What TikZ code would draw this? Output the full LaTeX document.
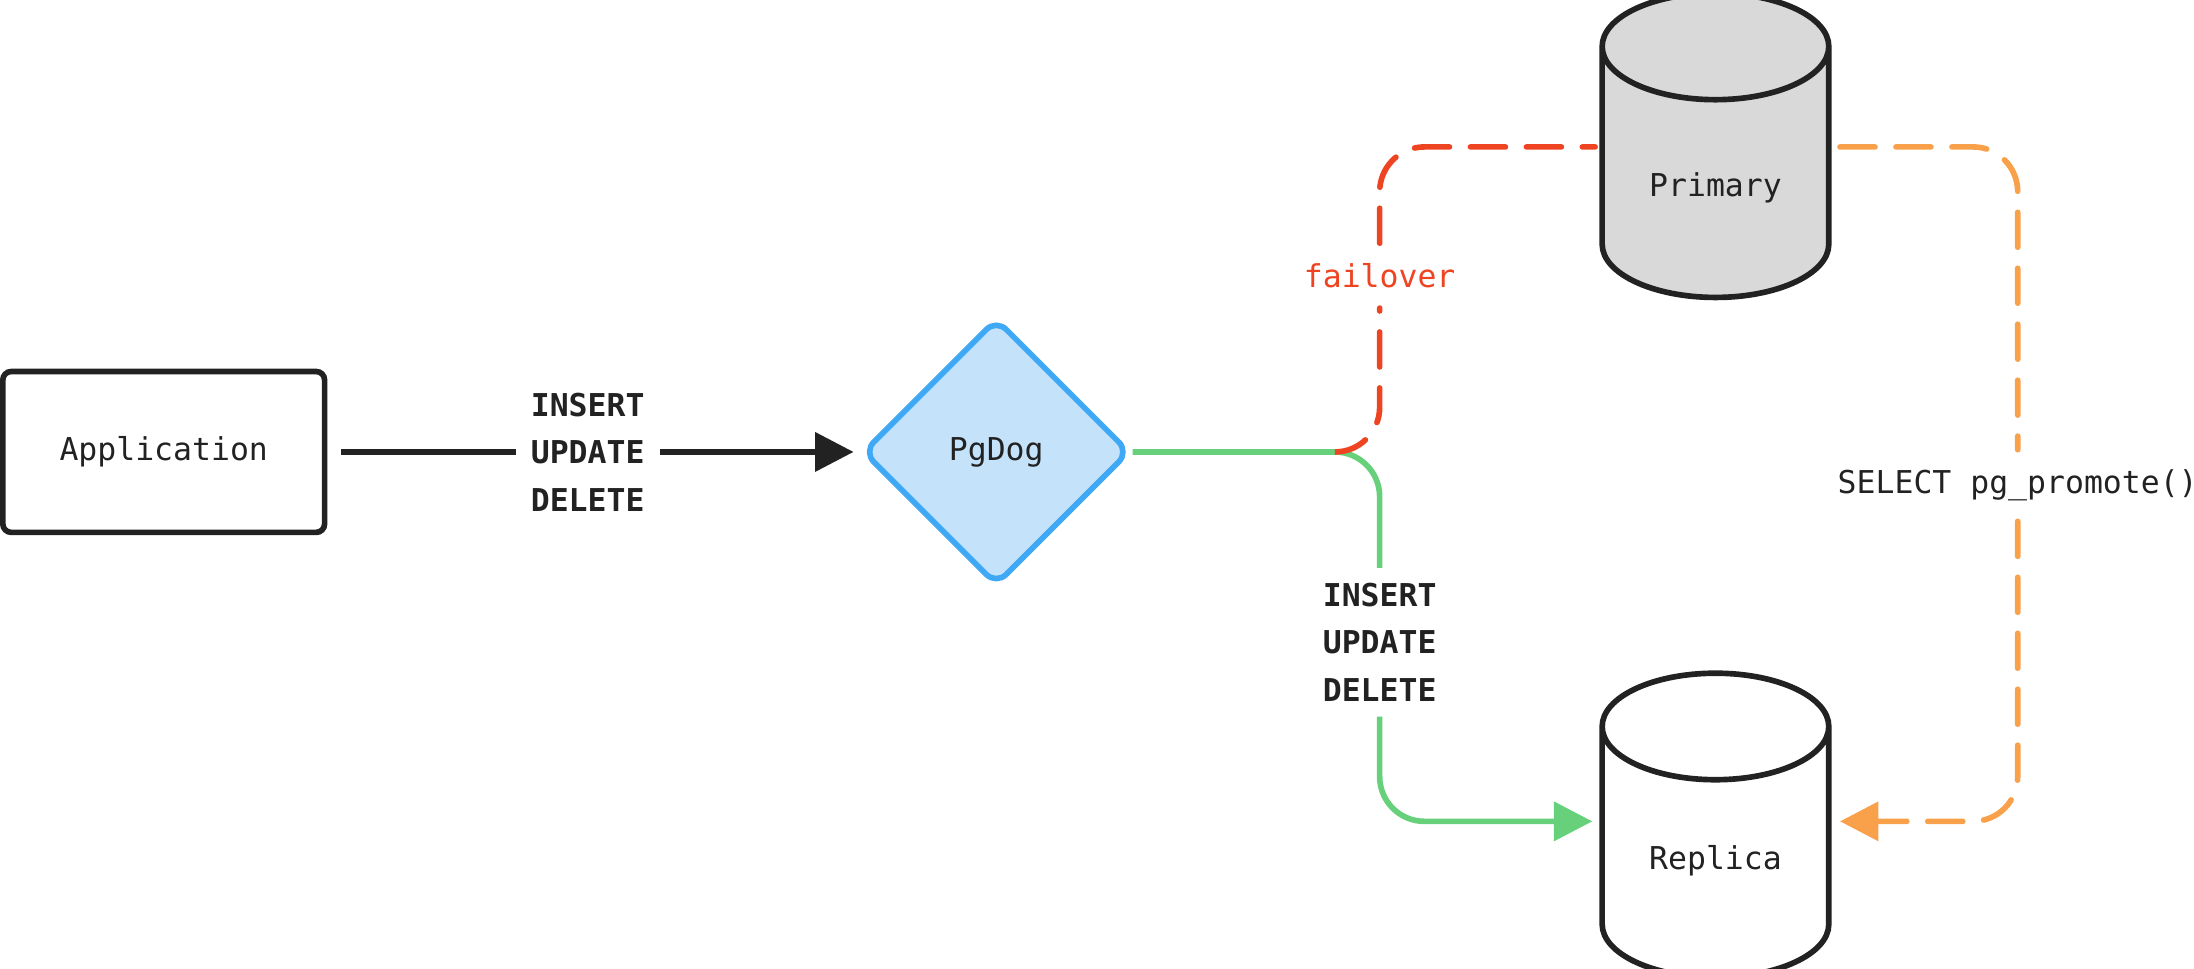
\documentclass[tikz,border=0pt]{standalone}
\usepackage{fontspec}
\setmainfont{DejaVu Sans Mono}
\usetikzlibrary{shapes.geometric,arrows.meta,positioning}
\definecolor{ink}{HTML}{222222}
\definecolor{pgblue}{HTML}{3FA9F5}
\definecolor{pgfill}{HTML}{C4E3FB}
\definecolor{wgreen}{HTML}{66D17A}
\definecolor{fred}{HTML}{EE4422}
\definecolor{porange}{HTML}{F9A04A}
\definecolor{dbgray}{HTML}{D9D9D9}
\tikzset{
  txt/.style={font=\fontsize{12.8}{19.3}\selectfont, text=ink, align=center},
  sql/.style={txt, font=\fontsize{12.8}{19.3}\selectfont\bfseries, inner sep=6pt},
  link/.style={line width=2.3pt, rounded corners=0.64cm},
  dashy/.style={link, dash pattern=on 0.5cm off 0.3cm, line cap=round},
  tip/.style={-{Triangle[length=0.55cm,width=0.55cm]}},
  db/.style={cylinder, shape border rotate=90, aspect=6.5, draw=ink, line width=2.3pt,
    minimum width=3.24cm, minimum height=4.35cm}
}
\begin{document}
\begin{tikzpicture}[x=0.02cm,y=-0.02cm]
\useasboundingbox (0,0) rectangle (1568,692);
% nodes
\node[txt, draw=ink, line width=2.3pt, rounded corners=0.12cm,
  minimum width=4.6cm, minimum height=2.3cm] (app) at (117,323) {Application};
\node[sql] (ins1) at (420,323) {INSERT\\UPDATE\\DELETE};
\node[txt, diamond, draw=pgblue, fill=pgfill, line width=2.3pt, rounded corners=0.2cm,
  minimum width=3.82cm, minimum height=3.82cm, inner sep=0pt] (pg) at (712,323) {PgDog};
\node[db, fill=dbgray] (primary) at (1226,131) {};
\node[txt] (primarylbl) at (1226,134) {Primary};
\node[db, fill=white] (replica) at (1226,617) {};
\node[txt] (replicalbl) at (1226,615) {Replica};
\node[sql] (ins2) at (986,459) {INSERT\\UPDATE\\DELETE};
\node[txt, text=fred, inner sep=8pt] (fail) at (986,197) {failover};
\node[txt, inner sep=8pt] (promote) at (1442,347) {SELECT pg\_promote()};
\coordinate (forkred) at (955,323);
\coordinate (primin) at (1140,105);
\coordinate (primout) at (1315,105);
\coordinate (replin) at (1138,587);
\coordinate (replout) at (1315,587);
% connectors
\draw[link, ink] (app.east) ++(10,0) -- (ins1.west);
\draw[link, ink, tip] (ins1.east) -- (pg.west -| 610,0);
\draw[link, wgreen] (pg.east) -| (ins2.north);
\draw[link, wgreen, tip] (ins2.south) |- (replin);
\draw[dashy, fred] (forkred) -| (fail.south);
\draw[dashy, fred] (fail.north) |- (primin);
\draw[dashy, porange] (primout) -| (promote.north);
\draw[dashy, porange, tip] (promote.south) |- (replout);
\end{tikzpicture}
\end{document}
